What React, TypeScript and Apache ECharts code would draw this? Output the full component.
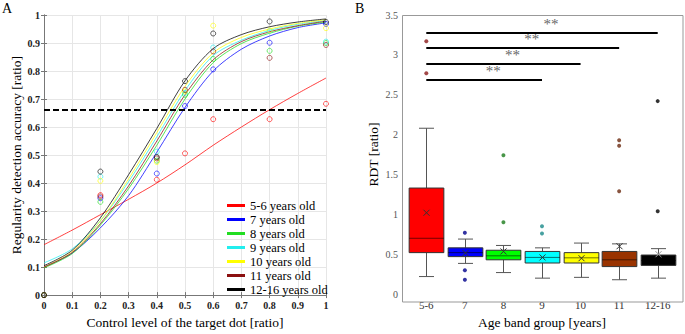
import React, { useEffect, useRef } from 'react';
import * as echarts from 'echarts';

const serif = 'Liberation Serif';

// ---------- Panel A data ----------
const groupNames = ['5-6 years old', '7 years old', '8 years old', '9 years old', '10 years old', '11 years old', '12-16 years old'];
const curveColors = ['#FF0000', '#0000FF', '#22DD22', '#22EEEE', '#FFFF00', '#8B1010', '#000000'];
const curveX = [0, 0.1, 0.2, 0.3, 0.4, 0.5, 0.6, 0.7, 0.8, 0.9, 1];
const fitRed = [0.18, 0.232, 0.287, 0.342, 0.4, 0.465, 0.535, 0.6, 0.662, 0.72, 0.775];
const fitBlue = [0.1, 0.15, 0.24, 0.355, 0.51, 0.67, 0.8, 0.878, 0.925, 0.955, 0.972];
const fitGreen = [0.097, 0.148, 0.25, 0.38, 0.535, 0.7, 0.83, 0.898, 0.935, 0.96, 0.975];
const fitCyan = [0.115, 0.165, 0.265, 0.405, 0.565, 0.73, 0.855, 0.91, 0.945, 0.967, 0.98];
const fitYellow = [0.1, 0.155, 0.265, 0.415, 0.58, 0.745, 0.865, 0.92, 0.95, 0.97, 0.983];
const fitBrown = [0.1, 0.152, 0.255, 0.39, 0.55, 0.715, 0.84, 0.905, 0.94, 0.962, 0.978];
const fitBlack = [0.105, 0.16, 0.276, 0.43, 0.595, 0.765, 0.88, 0.93, 0.958, 0.975, 0.986];
const fits = [fitRed, fitBlue, fitGreen, fitCyan, fitYellow, fitBrown, fitBlack];

const obsX = [0, 0.2, 0.4, 0.5, 0.6, 0.8, 1];
const obsRed = [0, 0.357, 0.412, 0.506, 0.628, 0.628, 0.683];
const obsBlue = [0, 0.346, 0.434, 0.675, 0.806, 0.901, 0.968];
const obsGreen = [0, 0.333, 0.48, 0.715, 0.843, 0.872, 0.9];
const obsCyan = [0, 0.423, 0.512, 0.722, 0.884, 0.942, 0.905];
const obsYellow = [0, 0.408, 0.475, 0.727, 0.962, 0.945, 0.953];
const obsBrown = [0, 0.352, 0.488, 0.733, 0.87, 0.847, 0.893];
const obsBlack = [0, 0.441, 0.493, 0.764, 0.934, 0.977, 0.975];
const observed = [obsRed, obsBlue, obsGreen, obsCyan, obsYellow, obsBrown, obsBlack];
const thresholdLevel = 0.655;

// ---------- Panel B data ----------
const ageGroups = ['5-6', '7', '8', '9', '10', '11', '12-16'];
const boxColors = ['#FF0000', '#0000FF', '#00FF00', '#00FFFF', '#FFFF00', '#993300', '#000000'];
const whiskerLow = [0.22, 0.385, 0.27, 0.2, 0.21, 0.18, 0.2];
const quart1 = [0.52, 0.47, 0.43, 0.39, 0.39, 0.345, 0.36];
const medians = [0.7, 0.52, 0.48, 0.46, 0.455, 0.43, 0.42];
const quart3 = [1.33, 0.58, 0.55, 0.535, 0.52, 0.535, 0.49];
const whiskerHigh = [2.08, 0.69, 0.61, 0.58, 0.64, 0.63, 0.57];
const means = [1.02, 0.515, 0.535, 0.46, 0.45, 0.6, 0.5];
const outliers = [[3.17, 2.77], [0.77, 0.3, 0.18], [1.74, 0.9], [0.85, 0.76], [], [1.93, 1.86, 1.29], [2.42, 1.04]];
const outlierColors = ['#8B1A1A', '#00008B', '#1A7A1A', '#1A8A8A', '#888800', '#6B2A10', '#000000'];
const sigFrom = [0, 0, 0, 0];
const sigTo = [3, 4, 5, 6];
const sigLevels = [2.68, 2.88, 3.08, 3.28];

export default function App() {
  const ref = useRef<HTMLDivElement>(null);
  useEffect(() => {
    if (!ref.current) return;
    const chart = echarts.init(ref.current, null, { renderer: 'svg' });

    const lineSeries: any[] = fits.map((f, i) => ({
      name: groupNames[i],
      type: 'line',
      xAxisIndex: 0,
      yAxisIndex: 0,
      data: curveX.map((x, j) => [x, f[j]]),
      smooth: 0.3,
      showSymbol: false,
      silent: true,
      itemStyle: { color: curveColors[i] },
      lineStyle: { color: curveColors[i], width: 1, opacity: 0.75 },
      z: 3,
      ...(i === 0
        ? {
            markLine: {
              silent: true,
              symbol: ['none', 'none'],
              label: { show: false },
              lineStyle: { color: '#000', type: [6, 3], width: 2, opacity: 1 },
              data: [{ yAxis: thresholdLevel }],
            },
          }
        : {}),
    }));
    const obsSeries: any[] = observed.map((o, i) => ({
      name: 'obs' + i,
      type: 'scatter',
      xAxisIndex: 0,
      yAxisIndex: 0,
      symbol: 'circle',
      symbolSize: 5,
      silent: true,
      itemStyle: { color: 'rgba(255,255,255,0)', borderColor: curveColors[i], borderWidth: 0.8, opacity: 0.8 },
      data: obsX.map((x, j) => [x, o[j]]),
      z: 4,
    }));

    const boxData = ageGroups.map((_, i) => [i, whiskerLow[i], quart1[i], medians[i], quart3[i], whiskerHigh[i], means[i]]);
    const outlierData: any[] = [];
    outliers.forEach((list, g) => list.forEach((v) => outlierData.push({ value: [g, v], itemStyle: { color: outlierColors[g] } })));
    const sigData = sigLevels.map((lv, i) => [sigFrom[i], sigTo[i], lv]);

    const axisLabelA = { fontFamily: serif, fontWeight: 'bold', fontSize: 10, color: '#222' };
    const nameStyle = { fontFamily: serif, fontSize: 13.5, color: '#000' };

    chart.setOption({
      animation: false,
      textStyle: { fontFamily: serif },
      graphic: [
        { type: 'text', x: 2, y: 1, style: { text: 'A', fontFamily: serif, fontSize: 14, fill: '#000' } },
        { type: 'text', x: 355, y: 1, style: { text: 'B', fontFamily: serif, fontSize: 14, fill: '#000' } },
        {
          type: 'rect',
          z: 10,
          silent: true,
          shape: { x: 402.5, y: 15.5, width: 280.5, height: 286.5 },
          style: { fill: 'none', stroke: '#999', lineWidth: 1 },
        },
      ],
      legend: {
        data: groupNames,
        orient: 'vertical',
        left: 222,
        top: 194,
        itemWidth: 18,
        itemHeight: 3,
        itemGap: 1,
        icon: 'rect',
        selectedMode: false,
        textStyle: { fontFamily: serif, fontSize: 12.5, color: '#000' },
      },
      grid: [
        { left: 44, top: 15, width: 282, height: 287 },
        { left: 407, top: 15, width: 270, height: 287 },
      ],
      xAxis: [
        {
          gridIndex: 0,
          type: 'value',
          min: 0,
          max: 1,
          interval: 0.1,
          name: 'Control level of the target dot [ratio]',
          nameLocation: 'middle',
          nameGap: 16,
          nameTextStyle: nameStyle,
          axisLine: { show: true, lineStyle: { color: '#777' } },
          axisTick: { show: true, inside: true, length: 3, lineStyle: { color: '#777' } },
          axisLabel: { ...axisLabelA, margin: 5 },
          splitLine: { show: true, lineStyle: { color: '#e6e6e6' } },
        },
        {
          gridIndex: 0,
          type: 'value',
          position: 'top',
          min: 0,
          max: 1,
          interval: 0.1,
          axisLine: { show: true, lineStyle: { color: '#777' } },
          axisTick: { show: true, inside: true, length: 3, lineStyle: { color: '#777' } },
          axisLabel: { show: false },
          splitLine: { show: false },
        },
        {
          gridIndex: 1,
          type: 'category',
          data: ageGroups,
          boundaryGap: true,
          name: 'Age band group [years]',
          nameLocation: 'middle',
          nameGap: 16,
          nameTextStyle: nameStyle,
          axisLine: { show: false },
          axisTick: { show: false },
          axisLabel: { fontFamily: serif, fontSize: 11, color: '#333', margin: 5 },
          splitLine: { show: false },
        },
      ],
      yAxis: [
        {
          gridIndex: 0,
          type: 'value',
          min: 0,
          max: 1,
          interval: 0.1,
          name: 'Regularity detection accuracy [ratio]',
          nameLocation: 'middle',
          nameGap: 19,
          nameTextStyle: nameStyle,
          axisLine: { show: true, lineStyle: { color: '#777' } },
          axisTick: { show: true, inside: true, length: 3, lineStyle: { color: '#777' } },
          axisLabel: { ...axisLabelA, margin: 4 },
          splitLine: { show: true, lineStyle: { color: '#e6e6e6' } },
        },
        {
          gridIndex: 0,
          type: 'value',
          position: 'right',
          min: 0,
          max: 1,
          interval: 0.1,
          axisLine: { show: true, lineStyle: { color: '#777' } },
          axisTick: { show: true, inside: true, length: 3, lineStyle: { color: '#777' } },
          axisLabel: { show: false },
          splitLine: { show: false },
        },
        {
          gridIndex: 1,
          type: 'value',
          min: 0,
          max: 3.5,
          interval: 0.5,
          offset: 5,
          name: 'RDT [ratio]',
          nameLocation: 'middle',
          nameGap: 22,
          nameTextStyle: nameStyle,
          axisLine: { show: false },
          axisTick: { show: false },
          axisLabel: { fontFamily: serif, fontSize: 10, color: '#555', margin: 4 },
          splitLine: { show: false },
        },
      ],
      series: [
        ...lineSeries,
        ...obsSeries,
        {
          type: 'custom',
          name: 'boxes',
          xAxisIndex: 2,
          yAxisIndex: 2,
          silent: true,
          data: boxData,
          encode: { x: 0, y: [1, 2, 3, 4, 5] },
          renderItem: (params: any, api: any) => {
            const idx = api.value(0);
            const lowP = api.coord([idx, api.value(1)]);
            const q1P = api.coord([idx, api.value(2)]);
            const medP = api.coord([idx, api.value(3)]);
            const q3P = api.coord([idx, api.value(4)]);
            const highP = api.coord([idx, api.value(5)]);
            const meanP = api.coord([idx, api.value(6)]);
            const band = api.size([1, 0])[0];
            const w = band * 0.9;
            const cap = 7.5;
            const x = Math.round(lowP[0]) + 0.5;
            const wl = { stroke: '#555', lineWidth: 1 };
            const m = 3;
            const meanColor = params.dataIndex === 6 ? '#999' : '#333';
            return {
              type: 'group',
              children: [
                { type: 'line', shape: { x1: x, y1: highP[1], x2: x, y2: q3P[1] }, style: wl },
                { type: 'line', shape: { x1: x, y1: q1P[1], x2: x, y2: lowP[1] }, style: wl },
                { type: 'line', shape: { x1: x - cap, y1: highP[1], x2: x + cap, y2: highP[1] }, style: wl },
                { type: 'line', shape: { x1: x - cap, y1: lowP[1], x2: x + cap, y2: lowP[1] }, style: wl },
                {
                  type: 'rect',
                  shape: { x: x - w / 2, y: q3P[1], width: w, height: q1P[1] - q3P[1] },
                  style: { fill: boxColors[params.dataIndex], stroke: '#333', lineWidth: 1 },
                },
                {
                  type: 'line',
                  shape: { x1: x - w / 2, y1: medP[1], x2: x + w / 2, y2: medP[1] },
                  style: { stroke: 'rgba(0,0,0,0.55)', lineWidth: 1 },
                },
                {
                  type: 'line',
                  z2: 5,
                  shape: { x1: x - m, y1: meanP[1] - m, x2: x + m, y2: meanP[1] + m },
                  style: { stroke: meanColor, lineWidth: 1 },
                },
                {
                  type: 'line',
                  z2: 5,
                  shape: { x1: x - m, y1: meanP[1] + m, x2: x + m, y2: meanP[1] - m },
                  style: { stroke: meanColor, lineWidth: 1 },
                },
              ],
            };
          },
        },
        {
          type: 'scatter',
          name: 'outliers',
          xAxisIndex: 2,
          yAxisIndex: 2,
          symbol: 'circle',
          symbolSize: 4,
          silent: true,
          data: outlierData,
        },
        {
          type: 'custom',
          name: 'significance',
          xAxisIndex: 2,
          yAxisIndex: 2,
          silent: true,
          data: sigData,
          encode: { x: [0, 1], y: 2 },
          renderItem: (params: any, api: any) => {
            const a = api.coord([api.value(0), api.value(2)]);
            const b = api.coord([api.value(1), api.value(2)]);
            const y = Math.round(a[1]);
            return {
              type: 'group',
              children: [
                { type: 'line', shape: { x1: a[0], y1: y, x2: b[0], y2: y }, style: { stroke: '#000', lineWidth: 2 } },
                {
                  type: 'text',
                  x: (a[0] + b[0]) / 2 + 9,
                  y: y - 2,
                  style: {
                    text: '**',
                    fill: '#666',
                    fontFamily: serif,
                    fontSize: 15,
                    align: 'center',
                    verticalAlign: 'bottom',
                  },
                },
              ],
            };
          },
        },
      ],
    });
    return () => chart.dispose();
  }, []);
  return <div ref={ref} style={{ position: 'absolute', left: 0, top: 0, width: 685, height: 334 }} />;
}
